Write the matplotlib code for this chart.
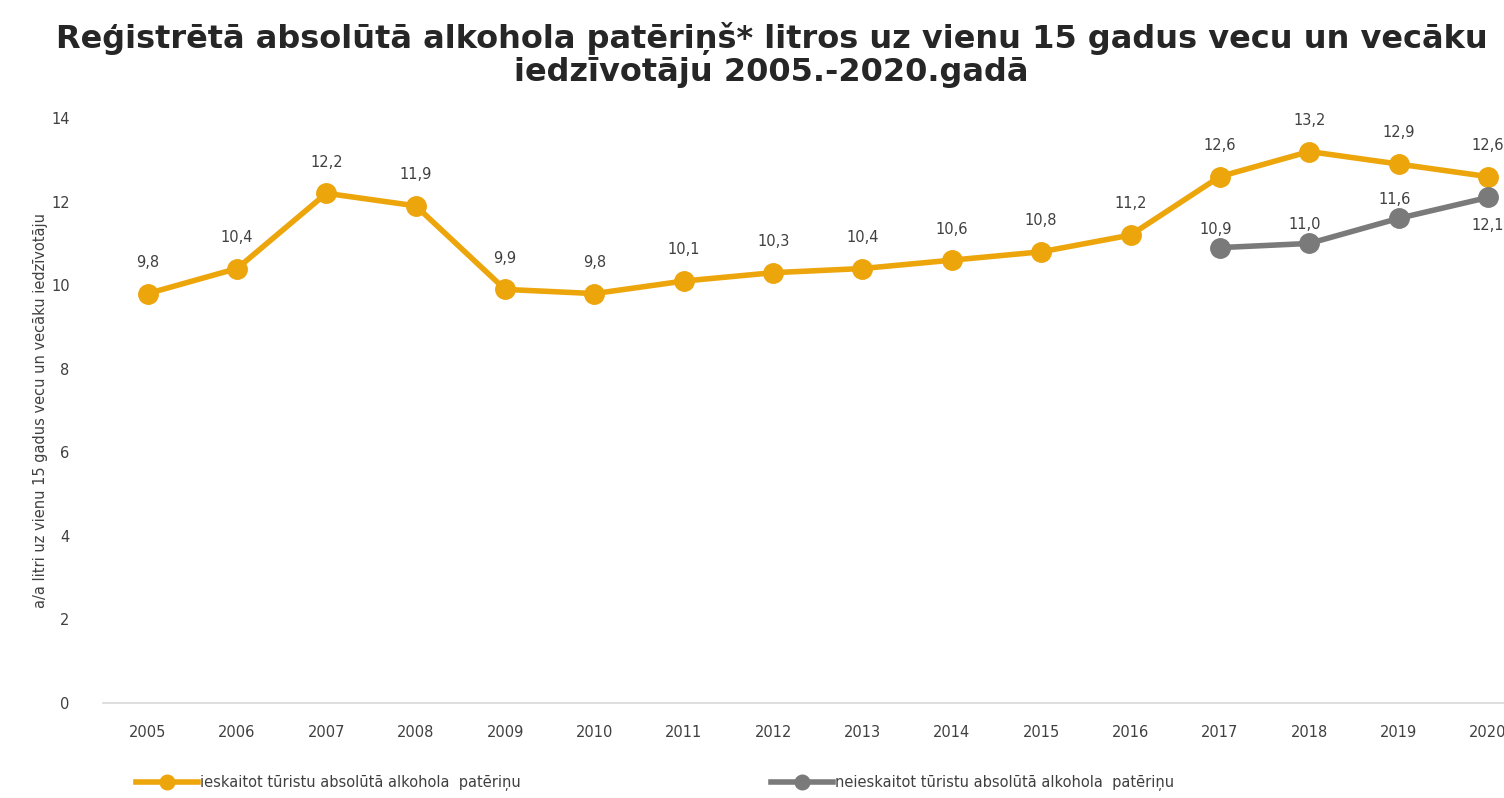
import matplotlib.pyplot as plt
import numpy as np

plt.rcParams['font.family'] = ['DejaVu Sans']

years = ["2005", "2006", "2007", "2008", "2009", "2010", "2011", "2012",
         "2013", "2014", "2015", "2016", "2017", "2018", "2019", "2020"]
incl_tourists = [9.8, 10.4, 12.2, 11.9, 9.9, 9.8, 10.1, 10.3,
                 10.4, 10.6, 10.8, 11.2, 12.6, 13.2, 12.9, 12.6]
excl_years = ["2017", "2018", "2019", "2020"]
excl_tourists = [10.9, 11.0, 11.6, 12.1]

label_incl = "ieskaitot tūristu absolūtā alkohola  patēriņu"
label_excl = "neieskaitot tūristu absolūtā alkohola  patēriņu"

ORANGE = "#EDA50C"
GRAY = "#7A7A7A"
TXT = "#404040"

fig = plt.figure(figsize=(15.04, 7.98), dpi=100)
ax = fig.add_axes([0.0685, 0.119, 0.9315, 0.733])

x = np.arange(len(years))
xe = np.array([years.index(y) for y in excl_years])

ax.plot(x, incl_tourists, color=ORANGE, lw=4, marker="o", ms=14,
        label=label_incl, zorder=3)
ax.plot(xe, excl_tourists, color=GRAY, lw=4, marker="o", ms=14,
        label=label_excl, zorder=3)

fmt = lambda v: f"{v:.1f}".replace(".", ",")
for xi, v in zip(x, incl_tourists):
    ax.annotate(fmt(v), (xi, v), xytext=(0, 17), textcoords="offset points",
                ha="center", va="bottom", fontsize=10.5, color=TXT)
for i, (xi, v) in enumerate(zip(xe, excl_tourists)):
    below = i == len(excl_tourists) - 1
    ax.annotate(fmt(v), (xi, v), xytext=(-3 if not below else 0, -15 if below else 8),
                textcoords="offset points", ha="center",
                va="top" if below else "bottom", fontsize=10.5, color=TXT)

ax.set_ylim(0, 14)
ax.set_yticks(range(0, 15, 2))
ax.set_xlim(-0.5, 15.18)
ax.set_xticks(x)
ax.set_xticklabels(years)
ax.tick_params(length=0, labelsize=10.5, colors=TXT, pad=16)
ax.tick_params(axis="y", pad=24)
for s in ["top", "right", "left"]:
    ax.spines[s].set_visible(False)
ax.spines["bottom"].set_color("#D9D9D9")
ax.spines["bottom"].set_linewidth(1.2)
ax.set_ylabel("a/a litri uz vienu 15 gadus vecu un vecāku iedzīvotāju",
              fontsize=10.5, color=TXT, labelpad=2)

fig.text(0.513, 1 - 22 / 798,
         "Reģistrētā absolūtā alkohola patēriņš* litros uz vienu 15 gadus vecu un vecāku\n"
         "iedzīvotāju 2005.-2020.gadā", fontsize=23, fontweight="bold",
         color="#262626", ha="center", va="top", linespacing=1.08)

fig.legend(loc="lower left", bbox_to_anchor=(0.082, -0.008), ncol=2, frameon=False,
           fontsize=10.5, labelcolor=TXT, columnspacing=17.2, handlelength=4.2,
           handletextpad=0.15, markerscale=0.75)

fig.savefig("out.png", dpi=100)
